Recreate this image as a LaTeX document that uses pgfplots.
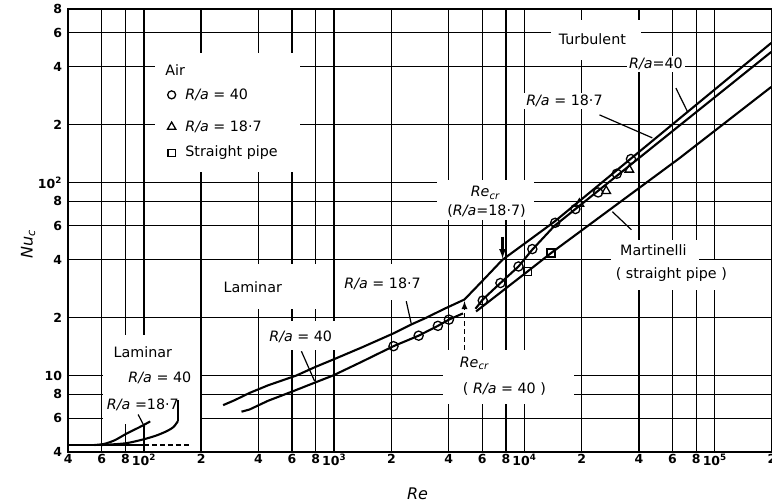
\documentclass[border=0pt]{standalone}
\usepackage{fontspec}
\setmainfont{DejaVu Sans}
\usepackage{pgfplots}
\pgfplotsset{compat=1.18}
\newcommand{\Ra}{\textit{R/a}}
\newcommand{\lbl}{\fontsize{14.3}{17}\selectfont}
\begin{document}
\begin{tikzpicture}
\begin{axis}[
  name=ax, at={(0,0)}, anchor=south west,
  xmode=log, ymode=log,
  scale only axis, width=704.6pt, height=444pt,
  xmin=40, xmax=200000, ymin=4, ymax=800,
  xtick={40,60,80,100,200,400,600,800,1000,2000,4000,6000,8000,10000,20000,40000,60000,80000,100000,200000},
  xticklabels={4,6,8,10\textsuperscript{2},2,4,6,8,10\textsuperscript{3},2,4,6,8,10\textsuperscript{4},2,4,6,8,10\textsuperscript{5},2},
  ytick={4,6,8,10,20,40,60,80,100,200,400,600,800},
  yticklabels={4,6,8,10,2,4,6,8,10\textsuperscript{2},2,4,6,8},
  minor xtick={}, minor ytick={},
  major tick length=0pt,
  grid=major,
  major grid style={black, line width=1.35pt},
  axis line style={line width=2pt},
  tick label style={font=\fontsize{12.5}{14}\selectfont\bfseries},
  xticklabel style={inner sep=1pt, anchor=north, yshift=-1pt},
  yticklabel style={inner sep=1pt, xshift=-5pt},
  every axis plot/.append style={line width=2.1pt, black},
]
% white backgrounds (gaps in the grid)
\fill[white] (rel axis cs:0.1232,0.6324) rectangle (rel axis cs:0.3290,0.9005);
\fill[white] (rel axis cs:0.6866,0.8847) rectangle (rel axis cs:0.8144,0.9748);
\fill[white] (rel axis cs:0.5234,0.5243) rectangle (rel axis cs:0.6625,0.6144);
\fill[white] (rel axis cs:0.7618,0.3667) rectangle (rel axis cs:0.9563,0.4342);
\fill[white] (rel axis cs:0.7718,0.4342) rectangle (rel axis cs:0.8967,0.4793);
\fill[white] (rel axis cs:0.2154,0.3239) rectangle (rel axis cs:0.3744,0.4252);
\fill[white] (rel axis cs:0.3829,0.3441) rectangle (rel axis cs:0.5135,0.4252);
\fill[white] (rel axis cs:0.2750,0.2315) rectangle (rel axis cs:0.3858,0.2968);
\fill[white] (rel axis cs:0.5319,0.1077) rectangle (rel axis cs:0.7193,0.2315);
\fill[white] (rel axis cs:0.0494,0.0626) rectangle (rel axis cs:0.1870,0.2653);

% low-Re laminar region
\addplot[sharp plot] coordinates {(40,4.36) (100,4.36)};
\addplot[sharp plot, dashed, dash pattern=on 5pt off 3pt] coordinates {(100,4.36) (178,4.36)};
\addplot[smooth] coordinates {(55,4.36) (62,4.42) (70.4,4.62) (81.2,5.0) (95,5.4) (108,5.78)};
\addplot[smooth] coordinates {(60,4.36) (80,4.45) (99,4.66) (116,4.88) (131.6,5.14) (143,5.4) (151,5.8)};
\addplot[sharp plot] coordinates {(151,5.8) (151,7.5)};

% R/a = 18.7 : laminar -> turbulent
\addplot[sharp plot] coordinates {(261,7.02) (300,7.45) (360,8.13) (450,8.9) (633,10) (800,11.1) (1000,12.16) (1400,14.0) (2037,16.5) (2541,18.4) (3000,19.8) (3800,22.2) (4840,24.8) (6000,30.9) (7674,39.9) (10000,48.3) (14360,62.8) (198000,531)};
% R/a = 40 : laminar
\addplot[sharp plot] coordinates {(326,6.49) (360,6.67) (450,7.4) (608,8.29) (790,9.18) (986,10) (1400,11.8) (2051,14.2) (2780,16.1) (3509,18.1) (4010,19.5) (4750,21.0)};
% R/a = 40 : turbulent
\addplot[sharp plot] coordinates {(5530,22.2) (6040,24.8) (7480,30.2) (9310,36.8) (11000,45) (14360,59.7) (198000,477)};
% Martinelli (straight pipe)
\addplot[sharp plot] coordinates {(5570,21.5) (10400,34.7) (13800,43.2) (65200,134) (198000,314)};

% data: R/a = 40 (circles)
\addplot[only marks, mark=o, mark size=4.6pt, line width=1.3pt, mark options={fill=white}] coordinates {
(2051,14.2) (2780,16.1) (3509,18.1) (4010,19.5) (6040,24.5) (7480,30.2) (9310,36.8) (11000,45.3) (14500,62) (18530,73.1) (24400,89.1) (30570,111.4) (36300,132.8)};
% data: R/a = 18.7 (triangles)
\addplot[only marks, mark=triangle, mark size=5pt, line width=1.3pt, mark options={fill=white}] coordinates {
(19440,77.8) (26900,90.6) (35560,117)};
% data: straight pipe (squares)
\addplot[only marks, mark=square, mark size=4pt, line width=1.3pt, mark options={fill=white}] coordinates {
(10400,34.7) (13800,43.2)};
% legend symbols
\addplot[only marks, mark=o, mark size=4pt, line width=1.3pt] coordinates {(140,285.8)};
\addplot[only marks, mark=triangle, mark size=4.8pt, line width=1.3pt] coordinates {(140,195)};
\addplot[only marks, mark=square, mark size=3.6pt, line width=1.3pt] coordinates {(140,143)};

% leaders and markers of Re_cr
\draw[line width=1.2pt] (axis cs:62500,310) -- (axis cs:71900,234);
\draw[line width=1.2pt] (axis cs:24800,225) -- (axis cs:47000,171);
\draw[line width=1.2pt] (axis cs:28970,70.8) -- (axis cs:36460,57.1);
\draw[line width=1.2pt] (axis cs:2393,24.3) -- (axis cs:2541,18.6);
\draw[line width=1.2pt] (axis cs:673,13.36) -- (axis cs:790,9.34);
\draw[line width=1.2pt] (axis cs:93.3,6.28) -- (axis cs:101,5.4);
\draw[line width=2.2pt, -latex] (axis cs:7674,52.5) -- (axis cs:7674,40.5);
\draw[line width=1.7pt, dashed, dash pattern=on 5pt off 3pt, -latex] (axis cs:4842,13.6) -- (axis cs:4842,24.3);

% texts
\node[anchor=west, font=\lbl] at (rel axis cs:0.1331,0.8622) {Air};
\node[anchor=west, font=\lbl] at (rel axis cs:0.1615,0.8059) {\Ra\ = 40};
\node[anchor=west, font=\lbl] at (rel axis cs:0.1615,0.7338) {\Ra\ = 18·7};
\node[anchor=west, font=\lbl] at (rel axis cs:0.1615,0.6752) {Straight pipe};
\node[font=\lbl] at (rel axis cs:0.7448,0.9320) {Turbulent};
\node[font=\lbl, fill=white, inner sep=2pt] at (rel axis cs:0.8352,0.8757) {\Ra=40};
\node[font=\lbl, fill=white, inner sep=2pt] at (rel axis cs:0.7051,0.7912) {\Ra\ = 18·7};
\node[font=\lbl] at (rel axis cs:0.5929,0.5849) {\textit{Re}\textsubscript{\textit{cr}}};
\node[font=\lbl] at (rel axis cs:0.5944,0.5444) {(\Ra=18·7)};
\node[font=\lbl] at (rel axis cs:0.8314,0.4563) {Martinelli};
\node[font=\lbl] at (rel axis cs:0.8570,0.4005) {( straight pipe )};
\node[font=\lbl] at (rel axis cs:0.2623,0.3712) {Laminar};
\node[font=\lbl] at (rel axis cs:0.4468,0.3802) {\Ra\ = 18·7};
\node[font=\lbl] at (rel axis cs:0.3304,0.2608) {\Ra\ = 40};
\node[font=\lbl] at (rel axis cs:0.5773,0.2000) {\textit{Re}\textsubscript{\textit{cr}}};
\node[font=\lbl] at (rel axis cs:0.6199,0.1414) {( \Ra\ = 40 )};
\node[font=\lbl] at (rel axis cs:0.1062,0.2250) {Laminar};
\node[font=\lbl] at (rel axis cs:0.1303,0.1685) {\Ra\ = 40};
\node[font=\lbl] at (rel axis cs:0.1062,0.1077) {\Ra\ =18·7};
\end{axis}
% axis titles
\node[font=\fontsize{16}{18}\selectfont] at ([xshift=-2.5pt,yshift=-41.2pt]ax.south) {\textit{Re}};
\node[font=\fontsize{16}{18}\selectfont, rotate=90] at ([xshift=-40pt,yshift=-14pt]ax.west) {\textit{Nu}\textsubscript{\textit{c}}};
\pgfresetboundingbox
\path ([xshift=-68.2pt,yshift=-51.2pt]ax.south west) rectangle ([yshift=8.7pt]ax.north east);
\end{tikzpicture}
\end{document}
